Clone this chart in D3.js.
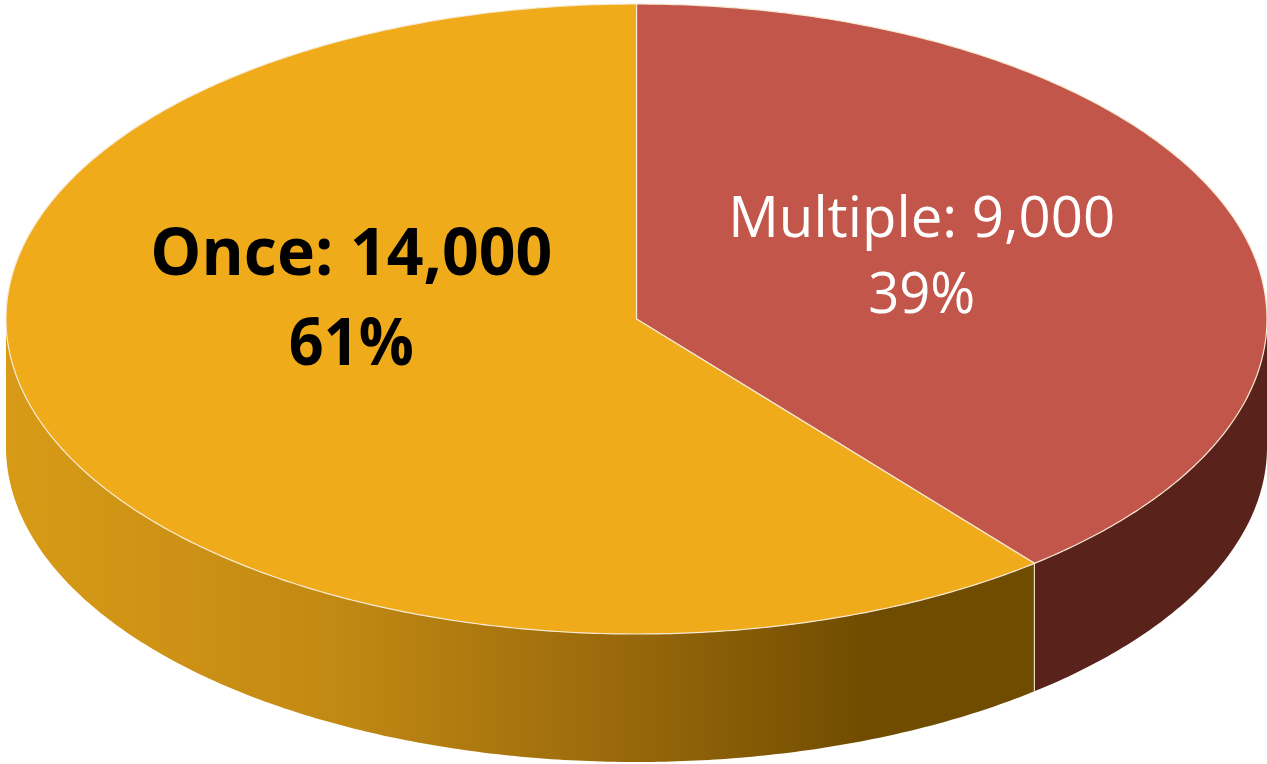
<!DOCTYPE html>
<html>
<head>
<meta charset="utf-8">
<script src="https://cdn.jsdelivr.net/npm/d3@7"></script>
<style>
  html, body { margin: 0; padding: 0; background: #ffffff; }
  #chart { width: 1267px; height: 764px; }
</style>
</head>
<body>
<div id="chart"></div>
<script>
// data
var categories = ["Multiple", "Once"];
var counts = [9000, 14000];
var percentLabels = ["39%", "61%"];

(function () {
    var width = 1267, height = 764;
    var cx = 636.5, cy = 319, rx = 630.5, ry = 315, depth = 128;

    var topColors = ["#c3564a", "#f0ab1b"];
    var sideColors = ["#59221b", "url(#onceSide)"];
    var labelColors = ["#ffffff", "#000000"];
    var labelWeights = ["normal", "bold"];
    var labelSizes = [57, 67];
    var labelWidths = [[387, 107], [402, 125]];
    var labelLineGap = [76, 90];
    var labelShiftY = [-31, -95];

    var data = categories.map(function (c, i) {
        return {name: c, value: counts[i], pct: percentLabels[i]};
    });

    var pie = d3.pie().sort(null).value(function (d) { return d.value; });
    var arcs = pie(data);

    var svg = d3.select("#chart").append("svg")
            .attr("width", width)
            .attr("height", height);

    var defs = svg.append("defs");
    var grad = defs.append("linearGradient")
            .attr("id", "onceSide")
            .attr("gradientUnits", "userSpaceOnUse")
            .attr("x1", cx - rx).attr("y1", 0)
            .attr("x2", 870).attr("y2", 0);
    grad.append("stop").attr("offset", "0").attr("stop-color", "#d89b17");
    grad.append("stop").attr("offset", "0.38").attr("stop-color", "#c28913");
    grad.append("stop").attr("offset", "0.75").attr("stop-color", "#94650a");
    grad.append("stop").attr("offset", "1").attr("stop-color", "#704c00");

    function pt(a, dy) {
        return [cx + rx * Math.sin(a), cy - ry * Math.cos(a) + (dy || 0)];
    }
    function sample(a0, a1, dy) {
        var n = Math.max(2, Math.ceil(Math.abs(a1 - a0) / 0.01));
        return d3.range(n + 1).map(function (k) {
            return pt(a0 + (a1 - a0) * k / n, dy);
        });
    }
    var line = d3.line();

    // sides: only the front half (90deg .. 270deg) can be seen
    var lo = Math.PI / 2, hi = Math.PI * 1.5;
    svg.append("g").attr("class", "sides")
            .selectAll("path")
            .data(arcs)
            .enter().append("path")
            .attr("d", function (d) {
                var a0 = Math.max(d.startAngle, lo), a1 = Math.min(d.endAngle, hi);
                if (a1 <= a0) return null;
                var pts = sample(a0, a1, 0).concat(sample(a1, a0, depth));
                return line(pts) + "Z";
            })
            .attr("fill", function (d, i) { return sideColors[i]; })
            .attr("stroke", "none");

    // seams where slices meet on the front side
    svg.append("g").attr("class", "seams")
            .selectAll("line")
            .data(arcs.filter(function (d) { return d.startAngle > lo && d.startAngle < hi; }))
            .enter().append("line")
            .attr("x1", function (d) { return pt(d.startAngle)[0]; })
            .attr("y1", function (d) { return pt(d.startAngle)[1]; })
            .attr("x2", function (d) { return pt(d.startAngle)[0]; })
            .attr("y2", function (d) { return pt(d.startAngle, depth)[1]; })
            .attr("stroke", "#e9dcc4")
            .attr("stroke-width", 1.2);

    // top faces
    svg.append("g").attr("class", "tops")
            .selectAll("path")
            .data(arcs)
            .enter().append("path")
            .attr("d", function (d) {
                return line([[cx, cy]].concat(sample(d.startAngle, d.endAngle, 0))) + "Z";
            })
            .attr("fill", function (d, i) { return topColors[i]; })
            .attr("stroke", "#f6e9d2")
            .attr("stroke-width", 1.2)
            .attr("stroke-linejoin", "round");

    // labels
    var labels = svg.append("g").attr("class", "labels")
            .selectAll("text")
            .data(arcs)
            .enter().append("text")
            .attr("text-anchor", "middle")
            .attr("font-family", "'Open Sans', 'Noto Sans', sans-serif")
            .attr("font-size", function (d, i) { return labelSizes[i]; })
            .attr("font-weight", function (d, i) { return labelWeights[i]; })
            .attr("fill", function (d, i) { return labelColors[i]; })
            .attr("transform", function (d, i) {
                var m = (d.startAngle + d.endAngle) / 2;
                var x = cx + rx * 0.48 * Math.sin(m);
                var y = cy - ry * 0.48 * Math.cos(m) + labelShiftY[i];
                return "translate(" + x + "," + y + ")";
            });

    labels.append("tspan")
            .attr("x", 0).attr("y", 0)
            .attr("textLength", function (d, i) { return labelWidths[i][0]; })
            .attr("lengthAdjust", "spacingAndGlyphs")
            .text(function (d) { return d.data.name + ": " + d3.format(",")(d.data.value); });
    labels.append("tspan")
            .attr("x", 0).attr("y", function (d, i) { return labelLineGap[i]; })
            .attr("textLength", function (d, i) { return labelWidths[i][1]; })
            .attr("lengthAdjust", "spacingAndGlyphs")
            .text(function (d) { return d.data.pct; });
})();
</script>
</body>
</html>
